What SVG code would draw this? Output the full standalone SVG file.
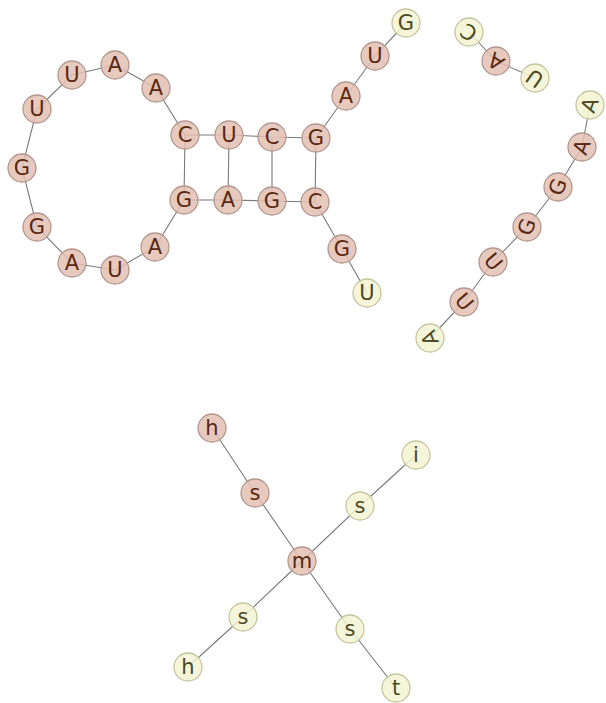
<svg xmlns="http://www.w3.org/2000/svg" width="606" height="703" viewBox="0 0 606 703">
<style>
.e{stroke:#7a7a7a;stroke-width:1.1;fill:none}
.p circle{fill:#e3c0b2;fill-opacity:0.85;stroke:#b39890;stroke-width:1.3}
.y circle{fill:#f3f3d2;fill-opacity:0.85;stroke:#c6c6a0;stroke-width:1.3}
text{font-family:"DejaVu Sans","Liberation Sans",sans-serif;font-size:21px;text-anchor:middle;dominant-baseline:central}
.p text{fill:#5a2812}
.y text{fill:#4a4a1e}
</style>
<rect width="606" height="703" fill="#ffffff"/>
<g id="connectors">
<polyline class="e" points="185,135 156,88 115,65 72,75 37,109 22,168 37,227 72,263 115,270 155,247 184,200"/>
<polyline class="e" points="185,135 229,135 272,137 316,138 346,96 375,56 406,23"/>
<polyline class="e" points="184,200 228,200 272,201 315,202 342,249 367,293"/>
<line class="e" x1="185" y1="135" x2="184" y2="200"/>
<line class="e" x1="229" y1="135" x2="228" y2="200"/>
<line class="e" x1="272" y1="137" x2="272" y2="201"/>
<line class="e" x1="316" y1="138" x2="315" y2="202"/>
<polyline class="e" points="469,32 496,61 535,78"/>
<polyline class="e" points="590,105 582,147 558,187 527,227 493,262 464,302 430,338"/>
<polyline class="e" points="212,428 255,493 302,561 350,629 396,688"/>
<polyline class="e" points="416,455 360,506 302,561 243,617 188,667"/>
</g>
<g id="n1" class="p"><circle cx="72" cy="75" r="14"/><text x="72" y="75">U</text></g>
<g id="n2" class="p"><circle cx="115" cy="65" r="14"/><text x="115" y="65">A</text></g>
<g id="n3" class="p"><circle cx="156" cy="88" r="14"/><text x="156" y="88">A</text></g>
<g id="n4" class="p"><circle cx="185" cy="135" r="14"/><text x="185" y="135">C</text></g>
<g id="n5" class="p"><circle cx="229" cy="135" r="14"/><text x="229" y="135">U</text></g>
<g id="n6" class="p"><circle cx="272" cy="137" r="14"/><text x="272" y="137">C</text></g>
<g id="n7" class="p"><circle cx="316" cy="138" r="14"/><text x="316" y="138">G</text></g>
<g id="n8" class="p"><circle cx="346" cy="96" r="14"/><text x="346" y="96">A</text></g>
<g id="n9" class="p"><circle cx="375" cy="56" r="14"/><text x="375" y="56">U</text></g>
<g id="n10" class="y"><circle cx="406" cy="23" r="14"/><text x="406" y="23">G</text></g>
<g id="n11" class="p"><circle cx="37" cy="109" r="14"/><text x="37" y="109">U</text></g>
<g id="n12" class="p"><circle cx="22" cy="168" r="14"/><text x="22" y="168">G</text></g>
<g id="n13" class="p"><circle cx="37" cy="227" r="14"/><text x="37" y="227">G</text></g>
<g id="n14" class="p"><circle cx="72" cy="263" r="14"/><text x="72" y="263">A</text></g>
<g id="n15" class="p"><circle cx="115" cy="270" r="14"/><text x="115" y="270">U</text></g>
<g id="n16" class="p"><circle cx="155" cy="247" r="14"/><text x="155" y="247">A</text></g>
<g id="n17" class="p"><circle cx="184" cy="200" r="14"/><text x="184" y="200">G</text></g>
<g id="n18" class="p"><circle cx="228" cy="200" r="14"/><text x="228" y="200">A</text></g>
<g id="n19" class="p"><circle cx="272" cy="201" r="14"/><text x="272" y="201">G</text></g>
<g id="n20" class="p"><circle cx="315" cy="202" r="14"/><text x="315" y="202">C</text></g>
<g id="n21" class="p"><circle cx="342" cy="249" r="14"/><text x="342" y="249">G</text></g>
<g id="n22" class="y"><circle cx="367" cy="293" r="14"/><text x="367" y="293">U</text></g>
<g id="n23" class="y"><circle cx="469" cy="32" r="14"/><text x="469" y="32" transform="rotate(215 469 32)">C</text></g>
<g id="n24" class="p"><circle cx="496" cy="61" r="14"/><text x="496" y="61" transform="rotate(215 496 61)">A</text></g>
<g id="n25" class="y"><circle cx="535" cy="78" r="14"/><text x="535" y="78" transform="rotate(215 535 78)">U</text></g>
<g id="n26" class="y"><circle cx="590" cy="105" r="14"/><text x="590" y="105" transform="rotate(-70 590 105)">A</text></g>
<g id="n27" class="p"><circle cx="582" cy="147" r="14"/><text x="582" y="147" transform="rotate(-70 582 147)">A</text></g>
<g id="n28" class="p"><circle cx="558" cy="187" r="14"/><text x="558" y="187" transform="rotate(-70 558 187)">G</text></g>
<g id="n29" class="p"><circle cx="527" cy="227" r="14"/><text x="527" y="227" transform="rotate(-70 527 227)">G</text></g>
<g id="n30" class="p"><circle cx="493" cy="262" r="14"/><text x="493" y="262" transform="rotate(50 493 262)">U</text></g>
<g id="n31" class="p"><circle cx="464" cy="302" r="14"/><text x="464" y="302" transform="rotate(50 464 302)">U</text></g>
<g id="n32" class="y"><circle cx="430" cy="338" r="14"/><text x="430" y="338" transform="rotate(-110 430 338)">A</text></g>
<g id="s1" class="p"><circle cx="212" cy="428" r="14"/><text x="212" y="428">h</text></g>
<g id="s2" class="p"><circle cx="255" cy="493" r="14"/><text x="255" y="493">s</text></g>
<g id="s3" class="p"><circle cx="302" cy="561" r="14"/><text x="302" y="561">m</text></g>
<g id="s4" class="y"><circle cx="360" cy="506" r="14"/><text x="360" y="506">s</text></g>
<g id="s5" class="y"><circle cx="416" cy="455" r="14"/><text x="416" y="455">i</text></g>
<g id="s6" class="y"><circle cx="243" cy="617" r="14"/><text x="243" y="617">s</text></g>
<g id="s7" class="y"><circle cx="188" cy="667" r="14"/><text x="188" y="667">h</text></g>
<g id="s8" class="y"><circle cx="350" cy="629" r="14"/><text x="350" y="629">s</text></g>
<g id="s9" class="y"><circle cx="396" cy="688" r="14"/><text x="396" y="688">t</text></g>
</svg>
